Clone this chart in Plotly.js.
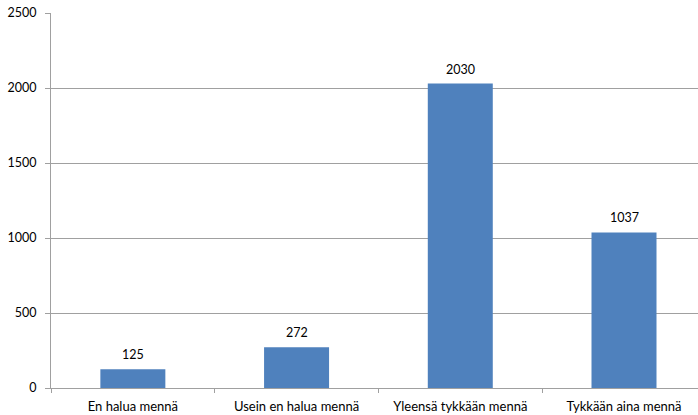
<!DOCTYPE html>
<html>
<head>
<meta charset="utf-8">
<script src="https://cdn.plot.ly/plotly-3.0.1.min.js"></script>
<style>html,body{margin:0;padding:0;background:#fff;}#chart{width:698px;height:415px;}</style>
</head>
<body>
<div id="chart"></div>
<script>
const categories = ["En halua mennä", "Usein en halua mennä", "Yleensä tykkään mennä", "Tykkään aina mennä"];
const values = [125, 272, 2030, 1037];
const yTicks = [0, 500, 1000, 1500, 2000, 2500];

const fam = "Lato, 'Open Sans', 'Liberation Sans', sans-serif";
const textFont = {family: fam, size: 13, color: "#000"};
const numFont = {family: fam, size: 12.5, color: "#000"};

Plotly.newPlot("chart", [{
  type: "bar",
  x: categories,
  y: values,
  marker: {color: "#4F81BD"},
  hoverinfo: "none"
}], {
  width: 698, height: 415,
  margin: {l: 51, r: 0, t: 13, b: 27},
  paper_bgcolor: "#fff", plot_bgcolor: "#fff",
  font: textFont,
  bargap: 0.603,
  showlegend: false,
  annotations: categories.map((c, i) => ({
    x: c, y: values[i], xref: "x", yref: "y",
    text: String(values[i]), showarrow: false,
    yanchor: "bottom", yshift: 5, font: numFont
  })),
  xaxis: {
    type: "category",
    range: [-0.5, 3.452],
    showline: true, linecolor: "#a0a0a0", linewidth: 1,
    ticks: "outside", tickson: "boundaries", ticklen: 4, tickcolor: "#a0a0a0",
    ticklabelstandoff: 6,
    showgrid: false, zeroline: false,
    tickfont: textFont
  },
  yaxis: {
    range: [0, 2500],
    tickvals: yTicks,
    ticktext: yTicks.map(String),
    showline: true, linecolor: "#a0a0a0", linewidth: 1,
    ticks: "outside", ticklen: 5, tickcolor: "#a0a0a0",
    ticklabelstandoff: 6,
    showgrid: true, gridcolor: "#a0a0a0", gridwidth: 1,
    zeroline: false,
    tickfont: numFont
  }
}, {staticPlot: true, displayModeBar: false});
</script>
</body>
</html>
